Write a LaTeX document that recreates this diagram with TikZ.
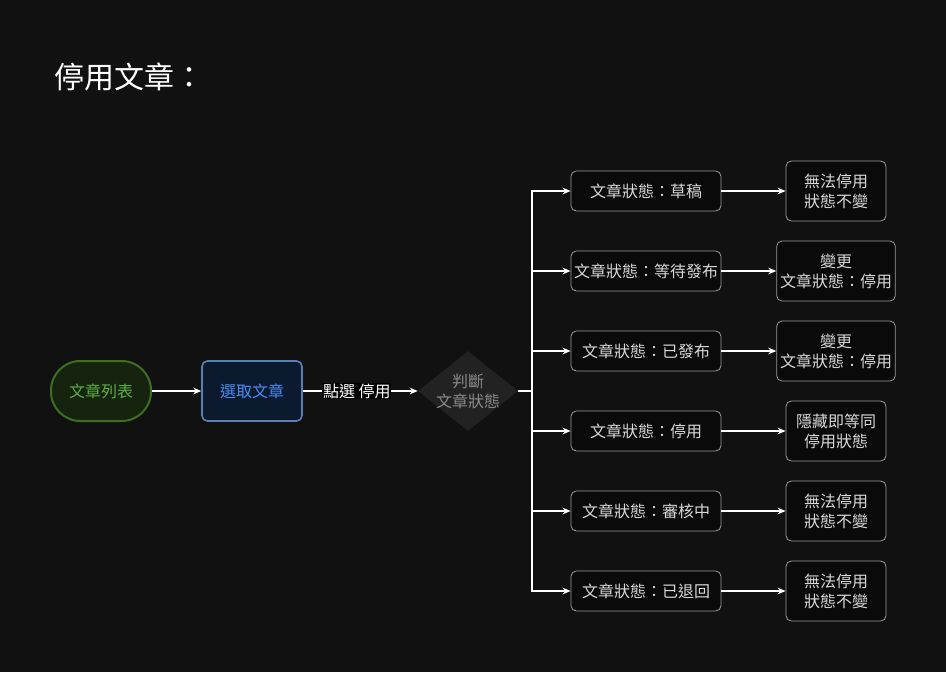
\documentclass[tikz,border=0pt]{standalone}
\usepackage{fontspec}
\setmainfont{Noto Sans CJK TC}
\usepackage{tikz}
\usetikzlibrary{arrows.meta, positioning, shapes.geometric, calc}

\definecolor{bgdark}{HTML}{111111}
\definecolor{listline}{HTML}{3E6E23}
\definecolor{listfill}{HTML}{16230F}
\definecolor{listtext}{HTML}{5DAE4A}
\definecolor{pickline}{HTML}{5C7FB3}
\definecolor{pickfill}{HTML}{0C1A30}
\definecolor{picktext}{HTML}{4A8CF0}
\definecolor{judgefill}{HTML}{222222}
\definecolor{judgetext}{HTML}{8A8A8A}
\definecolor{boxline}{HTML}{9A9A9A}
\definecolor{boxfill}{HTML}{0A0A0A}
\definecolor{boxtext}{HTML}{D8D8D8}

\begin{document}
\begin{tikzpicture}[
    x=0.75pt, y=-0.75pt,
    font=\fontsize{12}{15}\selectfont,
    arrow/.style={draw=white, line width=0.9pt, -{Stealth[length=6pt, width=5pt]}},
    listbox/.style={rectangle, rounded corners=22pt, draw=listline, line width=1.5pt, fill=listfill,
        text=listtext, minimum width=75pt, minimum height=45pt},
    pickbox/.style={rectangle, rounded corners=4pt, draw=pickline, line width=1.2pt, fill=pickfill,
        text=picktext, minimum width=75pt, minimum height=45pt},
    judge/.style={diamond, fill=judgefill, text=judgetext, align=center, inner sep=-3pt,
        aspect=1.25, minimum width=75pt, minimum height=60pt},
    statebox/.style={rectangle, rounded corners=4pt, draw=boxline, line width=0.6pt, fill=boxfill,
        text=boxtext, minimum width=112.5pt, minimum height=30pt, inner sep=1pt},
    resultbox/.style={rectangle, rounded corners=4pt, draw=boxline, line width=0.6pt, fill=boxfill,
        text=boxtext, align=center, minimum width=75pt, minimum height=45pt, inner sep=1pt},
    widebox/.style={resultbox, minimum width=89pt}
]
    % 背景
    \path[fill=bgdark] (0,0) rectangle (946,672);

    % 標題
    \node[anchor=west, text=white, font=\fontsize{22.5}{27}\selectfont] (title) at (50,77) {停用文章：};

    % 主流程
    \node[listbox] (list) at (101,391) {文章列表};
    \node[pickbox] (pick) at (252,391) {選取文章};
    \node[judge] (check) at (468,391) {判斷\\文章狀態};
    \draw[arrow] (list) -- (pick);
    \draw[arrow] (pick) -- node[fill=black, text=white, inner sep=0.5pt, pos=0.47] {點選 停用} (check);
    \draw[draw=white, line width=0.9pt] (check.east) -- (532,391) coordinate (split);

    % 文章狀態
    \node[statebox] (s1) at (646,191) {文章狀態：草稿};
    \node[statebox] (s2) at (646,271) {文章狀態：等待發布};
    \node[statebox] (s3) at (646,351) {文章狀態：已發布};
    \node[statebox] (s4) at (646,431) {文章狀態：停用};
    \node[statebox] (s5) at (646,511) {文章狀態：審核中};
    \node[statebox] (s6) at (646,591) {文章狀態：已退回};
    \foreach \s in {s1,s2,s3,s4,s5,s6}
        \draw[arrow] (split) |- (\s.west);

    % 結果
    \node[resultbox] (r1) at (836,191) {無法停用\\狀態不變};
    \node[widebox] (r2) at (836,271) {變更\\文章狀態：停用};
    \node[widebox] (r3) at (836,351) {變更\\文章狀態：停用};
    \node[resultbox] (r4) at (836,431) {隱藏即等同\\停用狀態};
    \node[resultbox] (r5) at (836,511) {無法停用\\狀態不變};
    \node[resultbox] (r6) at (836,591) {無法停用\\狀態不變};
    \foreach \i in {1,...,6}
        \draw[arrow] (s\i) -- (r\i);
\end{tikzpicture}
\end{document}
